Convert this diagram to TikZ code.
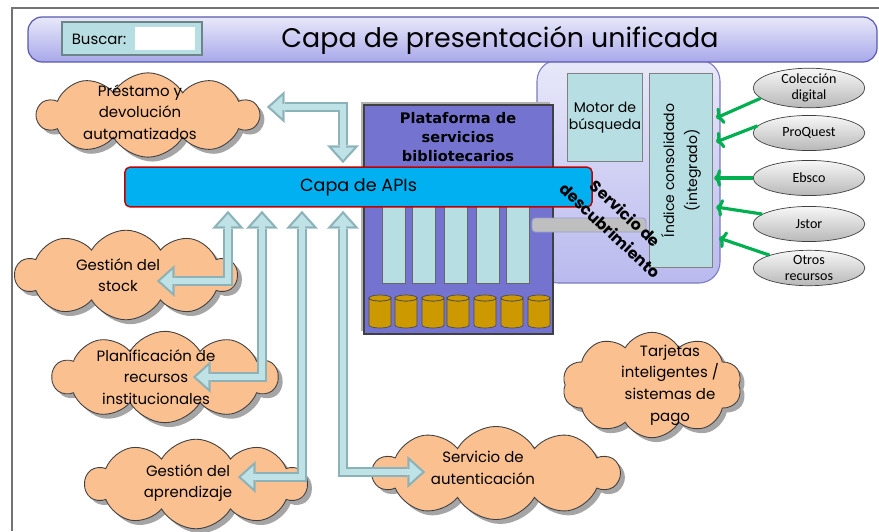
\documentclass[tikz,border=0pt]{standalone}
\usepackage{fontspec}
\setmainfont{Poppins}
\newfontfamily\ellfont{Carlito}
\newfontfamily\platfont{DejaVu Sans}
\usetikzlibrary{shapes.symbols,shapes.geometric,shadows,arrows.meta}

\definecolor{nubeFill}{RGB}{250,192,144}
\definecolor{flechaRelleno}{RGB}{190,226,230}
\definecolor{flechaBorde}{RGB}{138,178,184}
\definecolor{cajaClara}{RGB}{183,222,226}
\definecolor{moradoPlat}{RGB}{116,116,208}
\definecolor{azulApi}{RGB}{0,176,240}
\definecolor{rojoApi}{RGB}{192,0,0}
\definecolor{oroCil}{RGB}{204,153,0}
\definecolor{verdeFlecha}{RGB}{0,176,80}
\definecolor{lilaArriba}{RGB}{232,232,250}
\definecolor{lilaAbajo}{RGB}{168,168,234}
\definecolor{lilaBorde}{RGB}{90,90,176}

\tikzset{
  nube/.style={cloud, cloud puffs=10, cloud puff arc=120, cloud ignores aspect,
    draw=black!75, fill=nubeFill, line width=0.5pt, inner sep=0pt,
    drop shadow={shadow xshift=2.5pt, shadow yshift=-2.5pt, fill=black!50, opacity=0.7}},
  textoNube/.style={align=center, font=\fontsize{8.5}{12.3}\selectfont},
  fuente/.style={ellipse, draw=black!75, top color=black!3, bottom color=black!28,
    minimum width=63.5pt, minimum height=20pt, inner sep=0pt, align=center,
    font=\ellfont\fontsize{8}{9}\selectfont},
  enlace/.style={draw=verdeFlecha, line width=1.8pt, -{To[length=4pt,width=10pt]}},
  cajaclara/.style={draw=black!50, fill=cajaClara, line width=0.5pt, inner sep=0pt, align=center},
  flechaExt/.style={draw=flechaBorde, line width=5.7pt, line join=miter,
    >={Triangle[width=18pt,length=10pt,line width=0.1pt]}, <->},
  flechaInt/.style={draw=flechaRelleno, line width=3.4pt, line join=miter,
    shorten >=1.8pt, shorten <=1.8pt,
    >={Triangle[width=12.5pt,length=7pt,line width=0.1pt]}, <->},
  cilindro/.style={draw=black!70, fill=oroCil, line width=0.4pt},
}

% flecha de bloque: borde y relleno
\newcommand{\flechaBloque}[1]{%
  \draw[flechaExt] #1;
  \draw[flechaInt] #1;}

\begin{document}
\begin{tikzpicture}[x=0.02cm,y=-0.02cm]
  \useasboundingbox (0,0) rectangle (879,531);
  \fill[white] (0,0) rectangle (879,531);

  % marco de la diapositiva
  \draw[black!55, line width=0.6pt] (12,531) -- (12,8) -- (879,8);

  % servicio de descubrimiento
  \draw[draw=lilaBorde!80, top color=lilaArriba, bottom color=lilaAbajo!80, rounded corners=12pt, line width=0.6pt]
    (537,60) rectangle (720,283);
  \node[cajaclara, minimum width=43pt, minimum height=50.5pt, font=\fontsize{8}{10}\selectfont]
    (motor) at (605,117.5) {Motor de\\búsqueda};
  \node[cajaclara, minimum width=36.3pt, minimum height=110.5pt] (indice) at (681,170.5) {};
  \node[rotate=90, align=center, font=\fontsize{8}{13}\selectfont] (indiceTxt) at (indice.center)
    {Índice consolidado\\(integrado)};

  % capa de presentacion
  \draw[draw=lilaBorde, top color=lilaArriba, bottom color=lilaAbajo, rounded corners=8pt, line width=0.7pt]
    (28,17) rectangle (877,62);
  \draw[draw=black!40!cajaClara, fill=cajaClara, line width=1.2pt] (62,22) rectangle (202,55);
  \fill[white] (135,27) rectangle (195,50);
  \node[font=\fontsize{8.5}{10}\selectfont] (buscar) at (99,39) {Buscar:};
  \node[font=\fontsize{15.3}{17}\selectfont] (titulo) at (500,40) {Capa de presentación unificada};

  % fuentes externas
  \node[fuente] (coleccion) at (809,88) {Colección\\digital};
  \node[fuente] (proquest) at (809,133) {ProQuest};
  \node[fuente] (ebsco) at (809,178) {Ebsco};
  \node[fuente] (jstor) at (809,224) {Jstor};
  \node[fuente] (otros) at (809,268) {Otros\\recursos};
  \coordinate (entra1) at (716,118);
  \coordinate (entra2) at (716,142);
  \coordinate (entra3) at (714,178);
  \coordinate (entra4) at (716,207);
  \coordinate (entra5) at (719,238);
  \draw[enlace] (coleccion.192) -- (entra1);
  \draw[enlace] (proquest.172) -- (entra2);
  \draw[enlace] (ebsco.west) -- (entra3);
  \draw[enlace] (jstor.168) -- (entra4);
  \draw[enlace] (otros.162) -- (entra5);

  % plataforma de servicios
  \fill[black!30] (361,102) rectangle (550,331);
  \draw[draw=black!75, fill=moradoPlat, line width=0.6pt] (364,105) rectangle (553,334);
  \node[align=center, font=\platfont\bfseries\fontsize{8.3}{11}\selectfont] (plataforma) at (458,137)
    {Plataforma de\\servicios\\bibliotecarios};
  \foreach \x in {382,412,444,476,506}
    \draw[draw=black!60, fill=cajaClara, line width=0.5pt] (\x,200) rectangle ++(23,83);
  \foreach \x in {380,406,433,458,485,512,539} {
    \draw[cilindro] (\x-11,298) -- (\x-11,325) arc (180:0:11 and 3) -- (\x+11,298)
      arc (0:180:11 and 3) -- cycle;
    \draw[cilindro] (\x,298) ellipse (11 and 3);
  }
  \draw[draw=lilaBorde!60, fill=black!25, rounded corners=2pt, line width=0.5pt] (532,218) rectangle (646,232);

  % capa de APIs
  \node[draw=rojoApi, fill=azulApi, line width=0.8pt, rounded corners=3pt,
    minimum width=266pt, minimum height=22.7pt, font=\fontsize{10}{12}\selectfont]
    (api) at (358.5,187) {Capa de APIs};
  \node[rotate=-43, align=center, font=\bfseries\fontsize{9}{13}\selectfont] (descubre) at (618,222)
    {Servicio de\\descubrimiento};

  % nubes
  \node[nube, minimum width=126pt, minimum height=48pt] (prestamo) at (148,115) {};
  \node[textoNube] (prestamoTxt) at (140,112) {Préstamo y\\devolución\\automatizados};
  \node[nube, minimum width=126pt, minimum height=51pt] (stock) at (126,275) {};
  \node[textoNube] (stockTxt) at (118,275) {Gestión del\\stock};
  \node[nube, minimum width=128pt, minimum height=52pt] (planif) at (165,377) {};
  \node[textoNube] (planifTxt) at (156,377) {Planificación de\\recursos\\institucionales};
  \node[nube, minimum width=126pt, minimum height=51pt] (aprend) at (196,484) {};
  \node[textoNube] (aprendTxt) at (188,483) {Gestión del\\aprendizaje};
  \node[nube, minimum width=140pt, minimum height=53pt] (autent) at (496,473) {};
  \node[textoNube] (autentTxt) at (483,468) {Servicio de\\autenticación};
  \node[nube, minimum width=102pt, minimum height=60pt] (tarjetas) at (652,385) {};
  \node[textoNube] (tarjetasTxt) at (670,385) {Tarjetas\\inteligentes /\\sistemas de\\pago};

  % flechas hacia la capa de APIs
  \coordinate (prestamoPunta) at (267,107);
  \coordinate (apiArriba) at (343,163);
  \coordinate (api1) at (228,211);
  \coordinate (api2) at (262,211);
  \coordinate (api3) at (302,211);
  \coordinate (api4) at (343,211);
  \coordinate (stockPunta) at (157,281);
  \coordinate (planifPunta) at (193,377);
  \coordinate (aprendPunta) at (238,477);
  \coordinate (autentPunta) at (425,472);
  \flechaBloque{(prestamoPunta) -| (apiArriba)}
  \flechaBloque{(api1) |- (stockPunta)}
  \flechaBloque{(api2) |- (planifPunta)}
  \flechaBloque{(api3) |- (aprendPunta)}
  \flechaBloque{(api4) |- (autentPunta)}
\end{tikzpicture}
\end{document}
